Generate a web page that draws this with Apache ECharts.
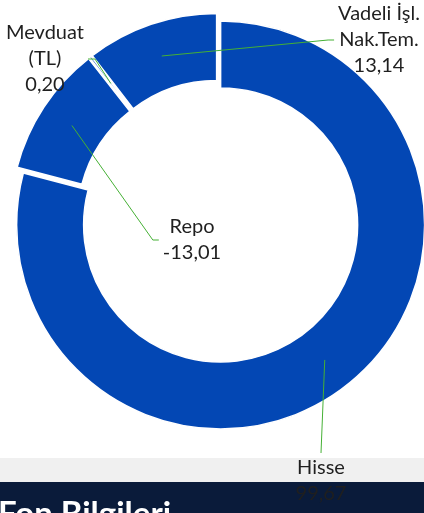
<!DOCTYPE html>
<html>
<head>
<meta charset="utf-8">
<script src="https://cdn.jsdelivr.net/npm/echarts@6/dist/echarts.min.js"></script>
<style>
html, body { margin: 0; padding: 0; background: #fff; }
#chart { width: 424px; height: 513px; }
</style>
</head>
<body>
<div id="chart"></div>
<script>
// slice data, clockwise from 12 o'clock
const names = ["Hisse", "Repo", "Mevduat\n(TL)", "Vadeli İşl.\nNak.Tem."];
const values = [99.67, -13.01, 0.20, 13.14];
const bandTitle = "Fon Bilgileri";

// label block centres and which side the leader line comes in from
const labelCenters = [[321, 481], [192, 240], [45, 59], [379, 40]];
const labelSides = ["bottom", "right", "left", "right"];

const center = [218, 221.5];
const radius = [137, 204];
const explode = 4.3;
const blue = "#0347b4";
const clear = "rgba(0,0,0,0)";

const total = values.reduce((s, v) => s + Math.abs(v), 0);
const midAngles = [];
{
    let acc = 0;
    values.forEach(v => {
        const a = (Math.abs(v) / total) * Math.PI * 2;
        midAngles.push(acc + a / 2);
        acc += a;
    });
}

// each slice is pulled out along its own bisector
const sliceCenters = midAngles.map(a => [
    center[0] + explode * Math.sin(a),
    center[1] - explode * Math.cos(a),
]);

function fmt(v) {
    return v.toFixed(2).replace(".", ",");
}

const pieData = highlight =>
    names.map((n, j) => ({
        name: n,
        value: Math.abs(values[j]),
        itemStyle: j === highlight
            ? { color: blue, borderColor: "#fff", borderWidth: 1.5 }
            : { color: clear, borderWidth: 0 },
    }));

const sliceSeries = names.map((n, i) => ({
    type: "pie",
    z: 2,
    center: sliceCenters[i],
    radius: radius,
    startAngle: 90,
    clockwise: true,
    silent: true,
    label: { show: false },
    labelLine: { show: false },
    data: pieData(i),
}));

// transparent overlay that only carries the labels, so leader lines sit above the slices
const labelSeries = {
    type: "pie",
    z: 5,
    center: center,
    radius: radius,
    startAngle: 90,
    clockwise: true,
    silent: true,
    avoidLabelOverlap: false,
    data: pieData(-1),
    label: {
        show: true,
        position: "outside",
        formatter: p => p.name + "\n" + fmt(values[p.dataIndex]),
        color: "#1f1f1f",
        fontFamily: "Lato",
        fontSize: 20,
        lineHeight: 26,
    },
    labelLine: { show: true, lineStyle: { color: "#45b035", width: 1 } },
    labelLayout(params) {
        const k = params.dataIndex;
        const r = (radius[0] + radius[1]) / 2;
        const c = sliceCenters[k];
        const start = [c[0] + r * Math.sin(midAngles[k]), c[1] - r * Math.cos(midAngles[k])];
        const [cx, cy] = labelCenters[k];
        const w = params.labelRect.width;
        const h = params.labelRect.height;
        let end, elbow;
        if (labelSides[k] === "right") {
            end = [cx - w / 2 - 4, cy];
            elbow = [end[0] - 6, cy];
        } else if (labelSides[k] === "left") {
            end = [cx + w / 2 + 4, cy];
            elbow = [end[0] + 7, cy];
        } else {
            end = [cx, cy - h / 2 - 2];
            elbow = end;
        }
        return {
            x: cx,
            y: cy,
            align: "center",
            verticalAlign: "middle",
            labelLinePoints: [start, elbow, end],
        };
    },
};

const chart = echarts.init(document.getElementById("chart"));

chart.setOption({
    animation: false,
    graphic: [
        { type: "rect", z: 0, shape: { x: 0, y: 458, width: 424, height: 24 }, style: { fill: "#f0f0f0" } },
        { type: "rect", z: 0, shape: { x: 0, y: 482, width: 424, height: 31 }, style: { fill: "#0a1b3a" } },
        {
            type: "text", z: 0, x: -2, y: 498,
            style: { text: bandTitle, fill: "#fff", font: "bold 33px Lato" },
        },
    ],
    series: [...sliceSeries, labelSeries],
});
</script>
</body>
</html>
